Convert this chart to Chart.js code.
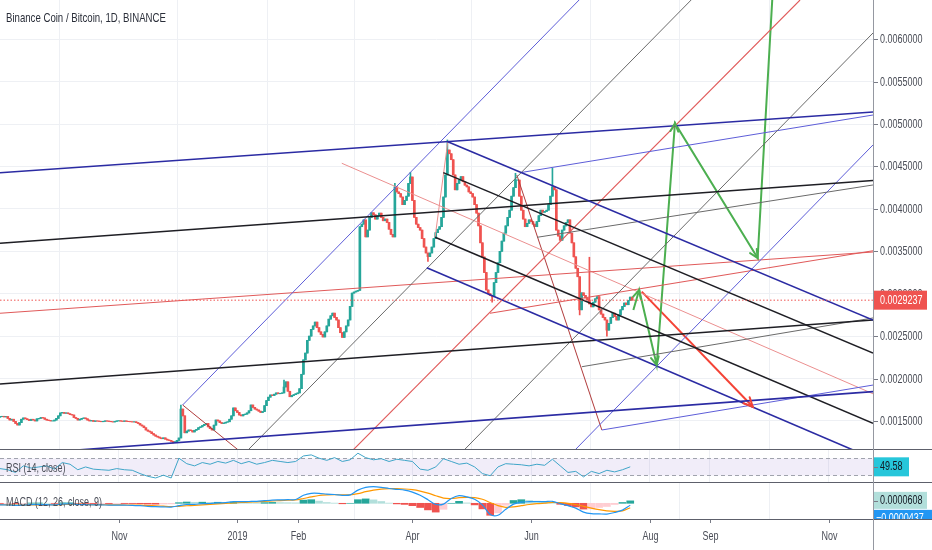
<!DOCTYPE html>
<html><head><meta charset="utf-8">
<script src="https://cdn.jsdelivr.net/npm/chart.js@4.4.1/dist/chart.umd.min.js"></script>
<style>
html,body{margin:0;padding:0;background:#fff;width:932px;height:550px;overflow:hidden;font-family:'Liberation Sans',Arial,sans-serif;}
canvas{position:absolute;left:0;}
.lbl{position:absolute;color:#4a4d57;font-size:12.5px;line-height:15px;white-space:nowrap;transform:scaleX(0.72);transform-origin:0 0;}
.sep{position:absolute;left:0;width:932px;height:1px;background:#5d606b;}
.vax{position:absolute;left:873px;top:0;width:1px;height:550px;background:#9598a1;}
</style></head><body>
<canvas id="main" width="932" height="449" style="top:0px"></canvas>
<canvas id="rsi" width="932" height="33" style="top:449px"></canvas>
<canvas id="macd" width="932" height="68" style="top:482px"></canvas>
<div class="sep" style="top:449px"></div>
<div class="sep" style="top:482px"></div>
<div class="sep" style="top:519px"></div>
<div class="vax"></div>
<div class="lbl" style="left:6px;top:10px;font-size:13px;color:#2a2e39;transform:scaleX(0.74)">Binance Coin / Bitcoin, 1D, BINANCE</div>
<div class="lbl" style="left:6px;top:461px;">RSI (14, close)</div>
<div class="lbl" style="left:6px;top:495px;">MACD (12, 26, close, 9)</div>
<script>
// ---------- DATA (prices in units of 1e-6 BTC; candle index 0 = 2018-09-01, daily) ----------
const U = 1e-6;
const firstOpen = 1545;
const closes = [
1550,1555,1548,1552,1530,1511,1520,1495,1470,1452,
1480,1520,1535,1525,1515,1505,1520,1511,1500,1525,
1530,1540,1535,1520,1510,1505,1500,1500,1510,1530,
1560,1594,1600,1590,1594,1585,1575,1570,1540,1530,
1511,1520,1530,1535,1525,1510,1500,1505,1495,1500,
1498,1495,1490,1495,1500,1498,1495,1490,1488,1495,
1500,1502,1498,1495,1500,1495,1492,1490,1488,1490,
1480,1470,1452,1440,1420,1393,1380,1370,1350,1334,
1320,1310,1299,1290,1300,1285,1275,1270,1260,1251,
1255,1270,1299,1640,1560,1360,1380,1393,1385,1370,
1390,1400,1420,1430,1445,1460,1470,1430,1410,1393,
1450,1511,1500,1480,1470,1475,1485,1490,1520,1560,
1653,1620,1600,1570,1560,1575,1580,1594,1620,1688,
1660,1640,1629,1615,1600,1610,1680,1740,1780,1806,
1800,1815,1830,1820,1825,1830,1900,1960,1850,1785,
1800,1810,1820,1830,1880,2050,2220,2300,2450,2500,
2580,2620,2665,2600,2550,2520,2490,2550,2620,2700,
2740,2771,2720,2690,2600,2540,2485,2550,2620,2690,
2850,3007,3020,3030,3040,3790,3820,3870,3670,3750,
3900,3954,3930,3880,3920,3950,3900,3860,3880,3840,
3760,3700,3670,4260,4200,4180,4140,4050,4100,4150,
4300,4376,4100,3900,3820,3780,3750,3650,3550,3480,
3437,3480,3550,3650,3720,3760,3790,3900,4140,4400,
4694,4650,4580,4400,4225,4300,4340,4380,4320,4280,
4260,4200,4180,4140,4050,3950,3800,3600,3433,3250,
3044,3000,2980,2964,3130,3250,3365,3500,3620,3714,
3800,3900,3985,4150,4250,4340,4340,4150,3985,3880,
3790,3830,3870,3850,3820,3790,3850,3920,3985,3960,
3970,3985,4050,4150,4260,4225,3750,3680,3630,3750,
3800,3840,3870,3714,3600,3435,3300,3200,2810,3010,
2980,2950,2925,2880,2845,2900,2940,2965,2810,2760,
2720,2690,2570,2650,2720,2770,2730,2690,2750,2810,
2850,2890,2870,2920,2960,2924];
const wickHighs = {93:1688,146:1983,203:4300,211:4430,230:4813,265:4420,284:4480,303:3430};
const wickLows  = {89:1240,220:3380,253:2900,298:2750,312:2500};
const lastPrice = 2923.7;
const lastPriceLabel = '0.0029237';
const priceTicks = [1500,2000,2500,3000,3500,4000,4500,5000,5500,6000];
const monthTicks = [61,122,153,212,273,334,365,426];
const monthLabels = ['Nov','2019','Feb','Apr','Jun','Aug','Sep','Nov'];

// indicators sampled every 4 candles
const indStep = 4;
const rsiValues = [45.3,42.6,36.1,51.9,46.6,49.3,51.9,44,59.8,55.8,
42.6,49.3,44,42.6,41.3,45.3,42.6,41.3,33.4,26.8,
22.9,29.5,22.9,70.3,57.1,51.9,59.8,55.8,62.4,58.5,
65.1,57.1,62.4,55.8,59.8,65.1,62.4,59.8,62.4,75.6,
78.2,70.3,65.1,71.6,62.4,66.4,82.2,71.6,66.4,69,
62.4,67.7,65.1,62.4,44,41.3,49.3,69,62.4,55.8,
58.5,49.3,33.4,28.2,49.3,57.1,55.8,54.5,51.9,55.8,
53.2,67.7,51.9,36.1,38.7,25.5,38.7,33.4,41.3,37.4,
42.6,49.58];
const macdValues = [-40,-42,-50,-45,-35,-30,-35,-40,-20,-15,
-30,-35,-40,-40,-45,-45,-48,-50,-60,-75,
-85,-90,-95,-60,-30,-25,-10,-5,10,15,
40,40,45,50,65,80,85,90,95,200,
250,250,230,220,200,210,330,400,416,400,
370,350,330,280,200,90,-30,-20,120,190,
160,100,-40,-280,-300,-150,-20,30,40,45,
40,50,-10,-60,-120,-220,-260,-265,-270,-230,
-170,-50];
const signalValues = [-35,-38,-42,-44,-42,-38,-36,-37,-32,-27,
-28,-30,-33,-35,-38,-40,-42,-44,-48,-55,
-63,-72,-80,-75,-62,-50,-38,-28,-16,-5,
8,20,30,38,48,58,68,76,84,120,
160,195,210,215,212,210,240,290,330,355,
365,365,358,340,305,255,190,130,120,140,
150,140,100,20,-60,-100,-90,-60,-30,-10,
5,20,15,0,-30,-75,-120,-160,-190,-200,
-190,-111];
const histLabel = '0.0000608';
const macdLabel = '\u22120.0000437';

// drawings: [day1, price1, day2, price2]
const navyLines = [[0,4427,448.8,5143],[39.6,1157,448.8,1845],[230.2,4793,448.8,2690],[219.4,3307,438.6,1157]];
const blackLines = [[0,3594,448.8,4336],[0,1935,448.8,2690],[227.9,4427,448.8,2301],[223.7,3665,448.8,1472]];
const grayLines = [[127.5,1157,355.3,6463],[238.6,1157,448.8,6074],[276.1,3665,448.8,4282],[299.1,2139,448.8,2714]];
const purpleLines = [[93.9,1688,297.7,6463],[295.6,1157,448.8,4754],[267.4,4427,448.8,5107],[309.4,1393,448.8,1923]];
const redLines = [[0,2769,448.8,3492],[251.9,2769,448.8,3507],[181.5,1157,411.3,6463]];
const salmonLines = [[175.7,4538,448.8,1820],[230.2,4793,223.7,3669]];
const brownLines = [[93.9,1688,122.5,1157],[265.7,4400,309.4,1393]];
const greenPath = [[325.6,2808],[328.6,3044],[337.6,2159],[347,5010],[389.5,3421],[397,6463]];
const greenHeads = [1,2,3,4];
const redArrow = [[329.9,3024],[387,1667]];

// ---------- BUILD ----------
const X_MIN = 0, X_MAX = 448.8;
const FONT = '"Liberation Sans",Arial,sans-serif';
const TXT = '#4a4d57';
Chart.defaults.font.family = FONT;
Chart.defaults.animation = false;
Chart.defaults.plugins.legend.display = false;
Chart.defaults.plugins.tooltip.enabled = false;

function ctext(ctx, text, x, y, color, align) {
  ctx.save();
  ctx.font = '12.5px ' + FONT; ctx.fillStyle = color; ctx.textBaseline = 'middle';
  ctx.textAlign = align || 'left';
  ctx.translate(x, y); ctx.scale(0.72, 1);
  ctx.fillText(text, 0, 0);
  ctx.restore();
}
function tickMark(ctx, x1, y1, x2, y2) {
  ctx.save(); ctx.strokeStyle = '#787b86'; ctx.lineWidth = 1;
  ctx.beginPath(); ctx.moveTo(x1, y1); ctx.lineTo(x2, y2); ctx.stroke(); ctx.restore();
}

const bodies = [], wicks = [], cColors = [];
let prev = firstOpen;
closes.forEach((c, i) => {
  const o = prev; prev = c;
  const hi = wickHighs[i] !== undefined ? wickHighs[i] : Math.max(o, c);
  const lo = wickLows[i] !== undefined ? wickLows[i] : Math.min(o, c);
  bodies.push({x: i, y: [o * U, c * U]});
  wicks.push({x: i, y: [lo * U, hi * U]});
  cColors.push(c >= o ? '#26a69a' : '#ef5350');
});

function lineSets(arr, color, width) {
  return arr.map(l => ({type: 'line', data: [{x: l[0], y: l[1] * U}, {x: l[2], y: l[3] * U}],
    borderColor: color, borderWidth: width, pointRadius: 0, tension: 0, order: 0}));
}

function xAxis(h) {
  return {type: 'linear', min: X_MIN, max: X_MAX, offset: false,
    grid: {color: '#eef0f4', drawTicks: false}, border: {display: false}, ticks: {display: false},
    afterBuildTicks: s => { s.ticks = monthTicks.map(v => ({value: v})); },
    afterFit: s => { s.height = h; s.paddingLeft = 0; s.paddingRight = 0; }};
}
function fitRight(s) { s.width = 59; s.paddingTop = 0; s.paddingBottom = 0; }

function arrowHead(ctx, x1, y1, x2, y2, len, color, w) {
  const a = Math.atan2(y2 - y1, x2 - x1);
  ctx.save(); ctx.strokeStyle = color; ctx.lineWidth = w; ctx.lineCap = 'round';
  ctx.beginPath();
  ctx.moveTo(x2 - len * Math.cos(a - 0.45), y2 - len * Math.sin(a - 0.45));
  ctx.lineTo(x2, y2);
  ctx.lineTo(x2 - len * Math.cos(a + 0.45), y2 - len * Math.sin(a + 0.45));
  ctx.stroke(); ctx.restore();
}

const mainOverlay = {
  id: 'mainOverlay',
  afterDatasetsDraw(chart) {
    const {ctx, scales: {x, y}, chartArea: a} = chart;
    const px = (d) => x.getPixelForValue(d), py = (p) => y.getPixelForValue(p * U);
    ctx.save();
    ctx.beginPath(); ctx.rect(a.left, a.top, a.right - a.left, a.bottom - a.top); ctx.clip();
    ctx.strokeStyle = '#ef5350'; ctx.lineWidth = 1; ctx.setLineDash([1.5, 2]);
    ctx.beginPath(); ctx.moveTo(a.left, py(lastPrice)); ctx.lineTo(a.right, py(lastPrice)); ctx.stroke();
    ctx.setLineDash([]);
    greenHeads.forEach(k => {
      const p0 = greenPath[k - 1], p1 = greenPath[k];
      arrowHead(ctx, px(p0[0]), py(p0[1]), px(p1[0]), py(p1[1]), 9, '#4caf50', 2);
    });
    arrowHead(ctx, px(redArrow[0][0]), py(redArrow[0][1]), px(redArrow[1][0]), py(redArrow[1][1]), 10, '#f44336', 2);
    ctx.restore();
  },
  afterDraw(chart) {
    const {ctx, scales: {y}} = chart;
    priceTicks.forEach(v => {
      const yy = Math.round(y.getPixelForValue(v * U)) + 0.5;
      tickMark(ctx, 874, yy, 878, yy);
      ctext(ctx, (v * U).toFixed(7), 880, yy, TXT);
    });
    const yp = y.getPixelForValue(lastPrice * U);
    ctx.save(); ctx.fillStyle = '#ef5350'; ctx.fillRect(874, yp - 9.5, 53, 19); ctx.restore();
    ctext(ctx, lastPriceLabel, 880, yp, '#ffffff');
  }
};

new Chart(document.getElementById('main'), {
  type: 'bar',
  data: {datasets: [
    ...lineSets(navyLines, '#2b2ba3', 1.6),
    ...lineSets(blackLines, '#1e1e24', 1.5),
    ...lineSets(grayLines, '#6a6a6a', 1),
    ...lineSets(purpleLines, '#5d5dd8', 1),
    ...lineSets(redLines, '#e05a5a', 1.1),
    ...lineSets(salmonLines, '#eb8f8f', 1),
    ...lineSets(brownLines, '#b03a3a', 1),
    {type: 'line', data: greenPath.map(p => ({x: p[0], y: p[1] * U})), borderColor: '#4caf50', borderWidth: 2, pointRadius: 0, tension: 0, order: 0},
    {type: 'line', data: redArrow.map(p => ({x: p[0], y: p[1] * U})), borderColor: '#f44336', borderWidth: 2, pointRadius: 0, tension: 0, order: 0},
    {type: 'bar', data: wicks, backgroundColor: cColors, barThickness: 1, grouped: false, order: 2},
    {type: 'bar', data: bodies, backgroundColor: cColors, barThickness: 2, grouped: false, order: 1}
  ]},
  options: {
    responsive: false, maintainAspectRatio: false,
    layout: {padding: 0},
    scales: {
      x: xAxis(0),
      y: {type: 'linear', position: 'right', min: 1169 * U, max: 6463 * U,
        grid: {color: '#eef0f4', drawTicks: false},
        border: {display: false},
        ticks: {display: false},
        afterBuildTicks: s => { s.ticks = priceTicks.map(v => ({value: v * U})); },
        afterFit: fitRight}
    }
  },
  plugins: [mainOverlay]
});

// ---------- RSI ----------
const rsiData = rsiValues.map((v, k) => ({x: k * indStep, y: v}));
const rsiBand = {
  id: 'rsiBand',
  beforeDatasetsDraw(chart) {
    const {ctx, scales: {y}, chartArea: a} = chart;
    const y70 = Math.round(y.getPixelForValue(70)) + 0.5, y30 = Math.round(y.getPixelForValue(30)) + 0.5;
    ctx.save();
    ctx.fillStyle = 'rgba(149,117,205,0.13)';
    ctx.fillRect(a.left, y70, a.right - a.left, y30 - y70);
    ctx.strokeStyle = '#a0a3ad'; ctx.lineWidth = 1; ctx.setLineDash([4, 3]);
    ctx.beginPath(); ctx.moveTo(a.left, y70); ctx.lineTo(a.right, y70);
    ctx.moveTo(a.left, y30); ctx.lineTo(a.right, y30); ctx.stroke();
    ctx.restore();
  },
  afterDraw(chart) {
    const {ctx, scales: {y}} = chart;
    const v = rsiValues[rsiValues.length - 1];
    const yy = y.getPixelForValue(v);
    ctx.save(); ctx.fillStyle = '#26c6da'; ctx.fillRect(874, yy - 9.5, 35, 19); ctx.restore();
    tickMark(ctx, 874, Math.round(yy) + 0.5, 878, Math.round(yy) + 0.5);
    ctext(ctx, v.toFixed(2), 880, yy, '#131722');
  }
};
new Chart(document.getElementById('rsi'), {
  type: 'line',
  data: {datasets: [{data: rsiData, borderColor: '#3fa5c8', borderWidth: 1, pointRadius: 0, tension: 0}]},
  options: {
    responsive: false, maintainAspectRatio: false, layout: {padding: 0},
    scales: {
      x: xAxis(0),
      y: {type: 'linear', position: 'right', min: 13.2, max: 92.3, grid: {display: false}, border: {display: false},
        ticks: {display: false}, afterFit: fitRight}
    }
  },
  plugins: [rsiBand]
});

// ---------- MACD ----------
const histData = [], histColors = [];
macdValues.forEach((m, k) => {
  const h = m - signalValues[k];
  const ph = k > 0 ? macdValues[k - 1] - signalValues[k - 1] : h;
  histData.push({x: k * indStep, y: h * U});
  histColors.push(h >= 0 ? (h >= ph ? '#26a69a' : '#b2dfdb') : (h <= ph ? '#ef5350' : '#ffcdd2'));
});
const macdTags = {
  id: 'macdTags',
  afterDraw(chart) {
    const {ctx, chartArea: a, scales: {x}} = chart;
    monthTicks.forEach((d, k) => {
      const xx = Math.round(x.getPixelForValue(d)) + 0.5;
      tickMark(ctx, xx, a.bottom, xx, a.bottom + 4);
      ctext(ctx, monthLabels[k], xx, 54.7, TXT, 'center');
    });
    ctx.save();
    ctx.beginPath(); ctx.rect(873, a.top, 59, a.bottom - a.top); ctx.clip();
    const hLast = histData[histData.length - 1].y;
    const yh = chart.scales.y.getPixelForValue(hLast);
    ctx.fillStyle = '#b2dfdb'; ctx.fillRect(874, yh - 9, 53, 17);
    tickMark(ctx, 874, Math.round(yh) + 0.5, 878, Math.round(yh) + 0.5);
    ctext(ctx, histLabel, 880, yh, '#131722');
    const yb = yh + 17;
    ctx.fillStyle = '#2196f3'; ctx.fillRect(874, yb - 8, 58, 17);
    ctext(ctx, macdLabel, 876, yb + 0.5, '#ffffff');
    ctx.restore();
  }
};
new Chart(document.getElementById('macd'), {
  type: 'bar',
  data: {datasets: [
    {type: 'line', data: macdValues.map((v, k) => ({x: k * indStep, y: v * U})), borderColor: '#2196f3', borderWidth: 1.2, pointRadius: 0, tension: 0.3, order: 0},
    {type: 'line', data: signalValues.map((v, k) => ({x: k * indStep, y: v * U})), borderColor: '#ff9800', borderWidth: 1.2, pointRadius: 0, tension: 0.3, order: 0},
    {type: 'bar', data: histData, backgroundColor: histColors, barThickness: 7, grouped: false, order: 1}
  ]},
  options: {
    responsive: false, maintainAspectRatio: false, layout: {padding: 0},
    scales: {
      x: xAxis(31),
      y: {type: 'linear', position: 'right', min: -393 * U, max: 533 * U, grid: {display: false}, border: {display: false},
        ticks: {display: false}, afterFit: fitRight}
    }
  },
  plugins: [macdTags]
});
</script>
</body></html>
